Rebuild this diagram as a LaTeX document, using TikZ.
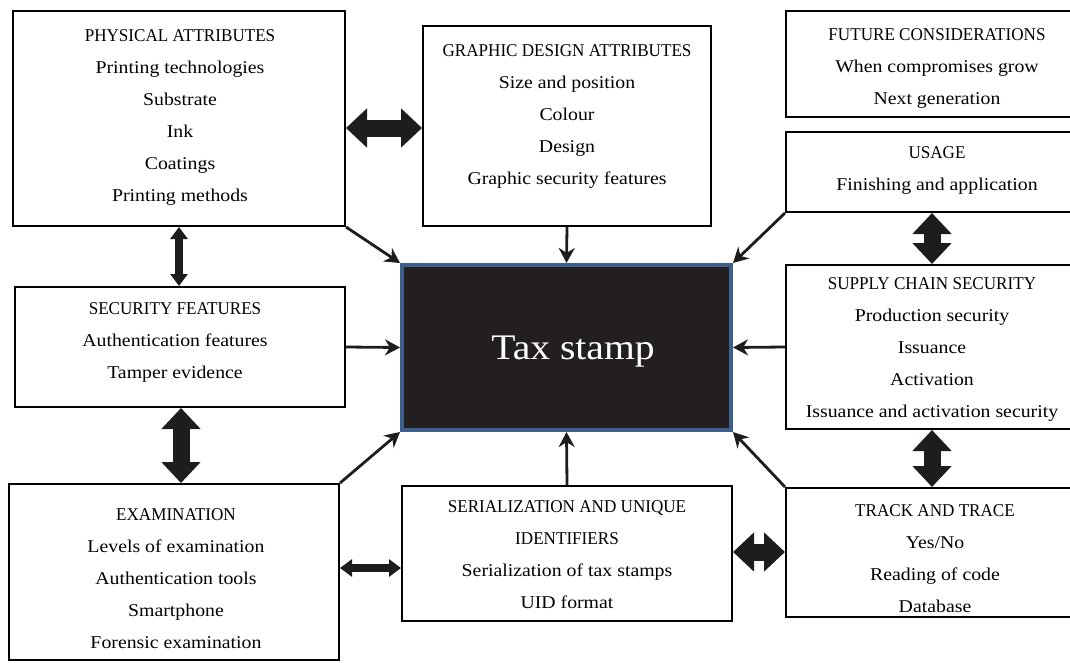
\documentclass[tikz,border=0pt]{standalone}
\usepackage{fontspec}
\setmainfont{Liberation Serif}[FakeStretch=1.1]
\newfontfamily\headfont{Liberation Serif}[FakeStretch=0.95]
\usetikzlibrary{positioning,arrows.meta}
\definecolor{stampfill}{RGB}{35,31,32}
\definecolor{stampedge}{RGB}{59,96,140}
\definecolor{ink}{RGB}{30,28,29}
\newcommand{\paneltitle}[1]{{\headfont\fontsize{18}{32}\selectfont #1}}
\tikzset{
  panel/.style={rectangle, draw=black, line width=2pt, fill=white, inner sep=0pt},
  paneltext/.style={align=center, inner sep=0pt, font=\fontsize{18}{32}\selectfont},
  feed/.style={draw=ink, line width=2.8pt, -{Stealth[length=15pt,width=16pt]}},
  bigpair/.style={draw=ink, line width=17pt, {Triangle[length=21pt,width=38pt]}-{Triangle[length=21pt,width=38pt]}},
  smallpair/.style={draw=ink, line width=8pt, {Triangle[length=12pt,width=17pt]}-{Triangle[length=12pt,width=17pt]}},
}

\begin{document}
\begin{tikzpicture}[x=1pt, y=-1pt]
\useasboundingbox (0,0) rectangle (1070,662);

% panels
\node (phys) [panel, minimum width=332pt, minimum height=215pt] at (179,118.5) {};
\node (graph) [panel, minimum width=288pt, minimum height=200pt] at (567,126) {};
\node (future) [panel, minimum width=287pt, minimum height=106pt] at (929.5,64) {};
\node (usage) [panel, minimum width=287pt, minimum height=80pt] at (929.5,172) {};
\node (supply) [panel, minimum width=287pt, minimum height=164pt] at (929.5,347) {};
\node (track) [panel, minimum width=287pt, minimum height=129pt] at (929.5,552.5) {};
\node (serial) [panel, minimum width=330pt, minimum height=135pt] at (567,553.5) {};
\node (exam) [panel, minimum width=330pt, minimum height=176pt] at (174,572) {};
\node (secf) [panel, minimum width=330pt, minimum height=120pt] at (180,347) {};
\node (stamp) [rectangle, fill=stampfill, draw=stampedge, line width=4pt, minimum width=329pt, minimum height=165pt] at (566.5,347.5) {};

% panel texts
\node (physT) [paneltext] at (180,117) {\paneltitle{PHYSICAL ATTRIBUTES}\\Printing technologies\\Substrate\\Ink\\Coatings\\Printing methods};
\node (graphT) [paneltext] at (567,116) {\paneltitle{GRAPHIC DESIGN ATTRIBUTES}\\Size and position\\Colour\\Design\\Graphic security features};
\node (futureT) [paneltext] at (937,68) {\paneltitle{FUTURE CONSIDERATIONS}\\When compromises grow\\Next generation};
\node (usageT) [paneltext] at (937,170.5) {\paneltitle{USAGE}\\Finishing and application};
\node (supplyT) [paneltext] at (932,349) {\paneltitle{SUPPLY CHAIN SECURITY}\\Production security\\Issuance\\Activation\\Issuance and activation security};
\node (trackT) [paneltext] at (935,558.5) {\paneltitle{TRACK AND TRACE}\\Yes/No\\Reading of code\\Database};
\node (serialT) [paneltext] at (567,555) {\paneltitle{SERIALIZATION AND UNIQUE}\\\paneltitle{IDENTIFIERS}\\Serialization of tax stamps\\UID format};
\node (examT) [paneltext] at (176,579) {\paneltitle{EXAMINATION}\\Levels of examination\\Authentication tools\\Smartphone\\Forensic examination};
\node (secfT) [paneltext] at (175,342) {\paneltitle{SECURITY FEATURES}\\Authentication features\\Tamper evidence};
\node (stampT) [text=white, font=\fontsize{36}{40}\selectfont] at (573,352) {Tax stamp};

% into the stamp
\draw [feed] (phys.south east) -- (stamp.north west);
\draw [feed] (graph.south) -- (stamp.north);
\draw [feed] (usage.south west) -- (stamp.north east);
\draw [feed] (secf.east) -- (stamp.west);
\draw [feed] (supply.west) -- (stamp.east);
\draw [feed] (exam.north east) -- (stamp.south west);
\draw [feed] (serial.north) -- (stamp.south);
\draw [feed] (track.north west) -- (stamp.south east);

% two-way links
\draw [bigpair] (phys.east |- 0,128) -- (graph.west |- 0,128);
\draw [smallpair] (phys.south) -- (phys.south |- secf.north);
\draw [bigpair] ([xshift=1pt]secf.south) -- ([xshift=1pt]secf.south |- exam.north);
\draw [smallpair] (exam.east |- 0,568) -- (serial.west |- 0,568);
\draw [bigpair] (serial.east |- 0,552) -- (track.west |- 0,552);
\draw [bigpair] ([xshift=2.5pt]usage.south) -- ([xshift=2.5pt]usage.south |- supply.north);
\draw [bigpair] ([xshift=2.5pt]supply.south) -- ([xshift=2.5pt]supply.south |- track.north);
\end{tikzpicture}
\end{document}
